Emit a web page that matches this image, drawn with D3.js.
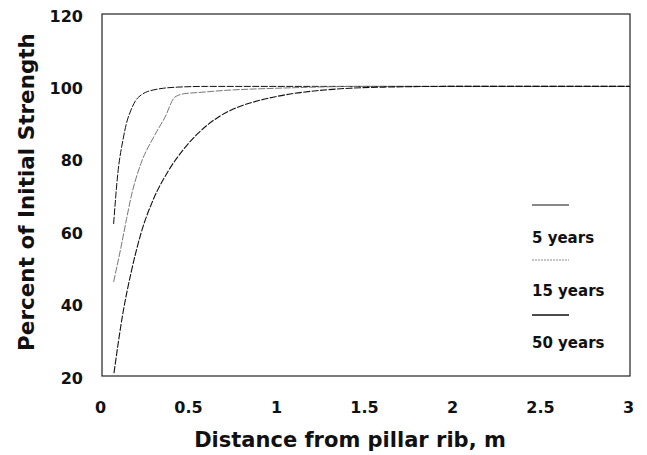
<!DOCTYPE html>
<html>
<head>
<meta charset="utf-8">
<script src="https://cdn.jsdelivr.net/npm/d3@7"></script>
<style>
  body { margin: 0; background: #fff; }
  text { font-family: "DejaVu Sans", sans-serif; font-weight: bold; fill: #111; }
</style>
</head>
<body>
<div id="chart-area"></div>
<script>
// data
let xTicks = [0, 0.5, 1, 1.5, 2, 2.5, 3];
let yTicks = [20, 40, 60, 80, 100, 120];

let dist5 =  [0.066, 0.09, 0.119, 0.14, 0.165, 0.19, 0.222, 0.26, 0.29, 0.35, 0.43, 0.6, 1, 2, 3];
let val5 =   [62, 76, 85.2, 90, 93.5, 96, 97.6, 98.6, 99.0, 99.5, 99.8, 100, 100, 100, 100];

let dist15 = [0.066, 0.108, 0.14, 0.165, 0.222, 0.29, 0.358, 0.415, 0.47, 0.545, 0.7, 1.0, 1.5, 2, 3];
let val15 =  [46, 55.6, 63.5, 69.4, 78.8, 85.7, 91.5, 97.1, 98.0, 98.3, 98.9, 99.5, 100, 100, 100];

let dist50 = [0.068, 0.119, 0.165, 0.222, 0.29, 0.375, 0.47, 0.545, 0.66, 0.74, 0.9, 1.07, 1.24, 1.41, 1.6, 2, 3];
let val50 =  [20.8, 37.4, 48.5, 59.5, 68.6, 76.5, 83, 87, 91.5, 93.6, 96.2, 97.9, 98.9, 99.5, 99.8, 100, 100];

let seriesNames = ["5 years", "15 years", "50 years"];

let margin = {left: 102, right: 17, top: 14, bottom: 79};
let width = 647 - margin.left - margin.right;
let height = 455 - margin.top - margin.bottom;

let svg = d3.select("#chart-area")
            .append("svg")
            .attr("width", 647)
            .attr("height", 455);

let g = svg.append("g")
            .attr("transform", "translate(" + margin.left + "," + margin.top + ")");

let x = d3.scaleLinear().domain([0, 3]).range([0, width]);
let y = d3.scaleLinear().domain([20, 120]).range([height, 0]);

// frame
g.append("rect")
    .attr("width", width)
    .attr("height", height)
    .attr("fill", "none")
    .attr("stroke", "#222")
    .attr("stroke-width", 1.2);

// x axis (labels only)
let xAxis = d3.axisBottom(x)
    .tickValues(xTicks)
    .tickSize(0)
    .tickPadding(26)
    .tickFormat(d3.format("~g"));
g.append("g")
    .attr("class", "x axis")
    .attr("transform", "translate(-2," + height + ")")
    .call(xAxis)
    .call(s => s.select(".domain").remove());

// y axis (labels only)
let yAxis = d3.axisLeft(y)
    .tickValues(yTicks)
    .tickSize(0)
    .tickPadding(19);
g.append("g")
    .attr("class", "y axis")
    .attr("transform", "translate(0,2)")
    .call(yAxis)
    .call(s => s.select(".domain").remove());

svg.selectAll(".axis text")
    .attr("font-family", "'DejaVu Sans', sans-serif")
    .attr("font-weight", "bold")
    .attr("font-size", "16px")
    .attr("fill", "#111");

// axis titles
g.append("text")
    .text("Distance from pillar rib, m")
    .attr("x", 350 - margin.left)
    .attr("y", 447 - margin.top)
    .attr("text-anchor", "middle")
    .attr("font-size", "21px");

g.append("text")
    .text("Percent of Initial Strength")
    .attr("transform", "rotate(-90)")
    .attr("x", -(192 - margin.top))
    .attr("y", 34 - margin.left)
    .attr("text-anchor", "middle")
    .attr("font-size", "21.5px");

// curves
let series = [
    {name: seriesNames[0], xs: dist5, ys: val5, color: "#111", width: 1},
    {name: seriesNames[1], xs: dist15, ys: val15, color: "#777", width: 1},
    {name: seriesNames[2], xs: dist50, ys: val50, color: "#111", width: 1.1}
];

let line = d3.line()
    .x(d => x(d[0]))
    .y(d => y(d[1]))
    .curve(d3.curveMonotoneX);

g.selectAll(".curve")
    .data(series)
    .enter()
    .append("path")
    .attr("class", "curve")
    .attr("d", d => line(d.xs.map((v, i) => [v, d.ys[i]])))
    .attr("fill", "none")
    .attr("stroke", d => d.color)
    .attr("stroke-width", d => d.width)
    .attr("stroke-dasharray", "7,1.5");

// legend
let legend = g.selectAll(".legend")
    .data(series)
    .enter()
    .append("g")
    .attr("class", "legend")
    .attr("transform", "translate(" + (532 - margin.left) + ",0)");

legend.append("line")
    .attr("x1", 0)
    .attr("x2", 37)
    .attr("y1", (d, i) => 205 - margin.top + i * 55)
    .attr("y2", (d, i) => 205 - margin.top + i * 55)
    .attr("stroke", (d, i) => i == 1 ? "#888" : "#111")
    .attr("stroke-width", (d, i) => i == 2 ? 1.6 : 1)
    .attr("stroke-dasharray", (d, i) => i == 1 ? "2,1" : null);

legend.append("text")
    .text(d => d.name)
    .attr("x", 0)
    .attr("y", (d, i) => 243 - margin.top + i * 52.5)
    .attr("font-size", "15px");
</script>
</body>
</html>
